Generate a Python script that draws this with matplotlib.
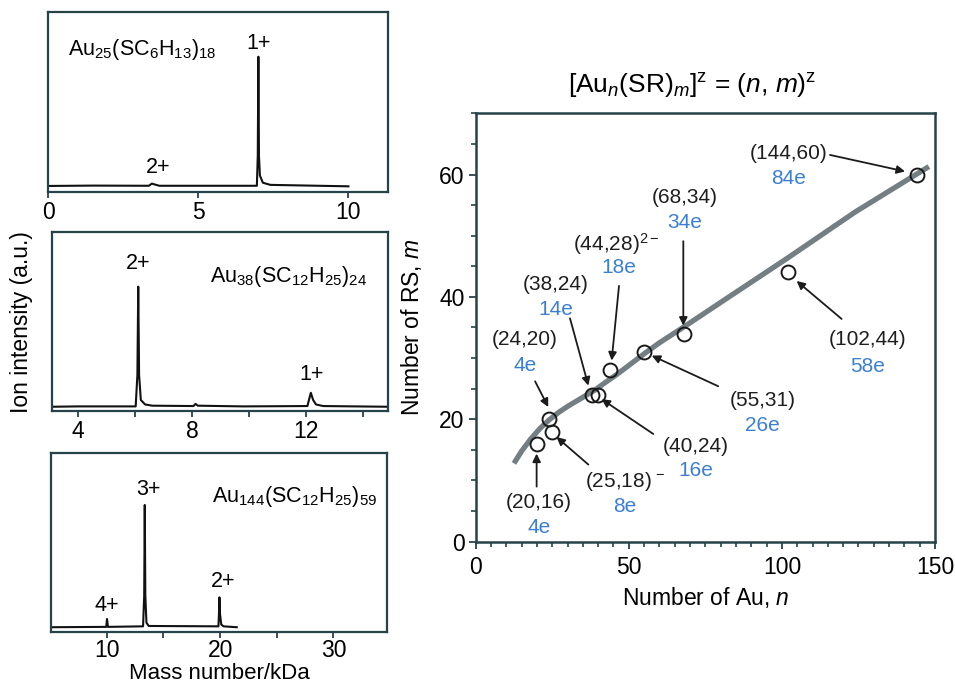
import matplotlib
matplotlib.use("Agg")
import matplotlib.pyplot as plt
from matplotlib.ticker import MultipleLocator

plt.rcParams['font.family'] = ['Liberation Sans', 'DejaVu Sans']
plt.rcParams['mathtext.fontset'] = 'custom'
plt.rcParams['mathtext.rm'] = 'Liberation Sans'
plt.rcParams['mathtext.it'] = 'Liberation Sans:italic'

# --- mass spectra (vertices) ---
ms1_x = [0, 1.5, 3.35, 3.45, 3.55, 3.7, 6.95, 6.98, 7.0, 7.02, 7.05, 7.15, 7.4, 10.0]
ms1_y = [0.032, 0.034, 0.033, 0.045, 0.04, 0.033, 0.033, 0.2, 0.75, 0.2, 0.09, 0.05, 0.038, 0.03]

ms2_x = [3.07, 4.0, 6.02, 6.08, 6.11, 6.14, 6.2, 6.35, 6.6, 8.05, 8.12, 8.2, 9.8,
         12.05, 12.12, 12.17, 12.25, 12.35, 12.6, 14.89]
ms2_y = [0.022, 0.024, 0.024, 0.2, 0.694, 0.2, 0.06, 0.035, 0.028, 0.026, 0.038, 0.028, 0.024,
         0.026, 0.07, 0.10, 0.06, 0.035, 0.026, 0.022]

ms3_x = [5.05, 9.95, 10.02, 10.1, 13.2, 13.3, 13.35, 13.4, 13.5, 13.7,
         19.85, 19.9, 19.94, 19.99, 20.1, 20.3, 21.47]
ms3_y = [0.025, 0.027, 0.071, 0.027, 0.03, 0.2, 0.708, 0.2, 0.05, 0.032,
         0.03, 0.1, 0.192, 0.1, 0.04, 0.03, 0.025]

# --- cluster compositions ---
au_n = [20, 24, 25, 38, 40, 44, 55, 68, 102, 144]
rs_m = [16, 20, 18, 24, 24, 28, 31, 34, 44, 60]
charge = ['', '', r'$^{\,-}$', '', '', r'$^{2-}$', '', '', '', '']
electrons = [4, 4, 8, 14, 16, 18, 26, 34, 58, 84]

# trend curve
curve_n = [12.5, 15, 18, 21, 24, 27, 30, 33, 36, 39, 42, 46, 50, 55, 60, 68, 80, 102, 124, 148]
curve_m = [12.8, 14.8, 16.8, 18.5, 19.9, 21.1, 22.1, 23.0, 23.9, 24.8, 25.9, 27.3, 28.8,
           30.7, 32.5, 35.1, 39.1, 46.4, 53.9, 61.3]

# label layout: (label x, label y, e-label x, e-label y, arrow tail, arrow tip)
layout = [
    (20.7, 6.35, 20.7, 2.3, (19.9, 9.0), (19.9, 14.4)),
    (16.1, 33.0, 16.1, 28.8, (19.4, 26.2), (23.7, 22.0)),
    (49.0, 9.8, 48.8, 5.7, (36.8, 12.6), (26.4, 17.1)),
    (26.1, 42.1, 26.1, 38.0, (30.8, 36.5), (36.8, 25.5)),
    (71.8, 15.5, 71.8, 11.6, (58.0, 17.6), (41.1, 23.3)),
    (46.0, 48.6, 46.6, 44.8, (46.8, 41.8), (44.4, 29.6)),
    (93.6, 23.0, 93.6, 19.0, (79.2, 25.4), (57.5, 30.4)),
    (68.4, 56.2, 68.4, 52.1, (67.8, 49.1), (67.8, 35.3)),
    (128.0, 33.0, 128.0, 28.6, (119.5, 36.4), (104.8, 42.6)),
    (102.1, 63.5, 102.1, 59.3, (115.7, 63.2), (140.2, 60.5)),
]

spine_c = '#27434a'
blue = '#3b7fd4'
fs = 16.5

fig = plt.figure(figsize=(9.55, 6.83), dpi=100)


def style_ms(ax, xlim):
    ax.set_xlim(*xlim)
    ax.set_ylim(0, 1)
    ax.set_yticks([])
    for s in ax.spines.values():
        s.set_color(spine_c)
        s.set_linewidth(1.6)
    ax.tick_params(axis='x', direction='out', length=4, width=1.3, color=spine_c,
                   labelsize=fs, pad=3, which='both')


ax1 = fig.add_axes([0.0506, 0.7193, 0.356, 0.2636])
ax1.plot(ms1_x, ms1_y, color='#111111', lw=1.5)
style_ms(ax1, (0, 11.33))
ax1.set_xticks([0, 5, 10])
ax1.text(0.058, 0.759, r'Au$_{25}$(SC$_6$H$_{13}$)$_{18}$', transform=ax1.transAxes,
         fontsize=15.5, va='baseline', ha='left')
ax1.text(7.0, 0.826, '1+', fontsize=15.5, ha='center', va='center',
         transform=ax1.get_xaxis_transform())
ax1.text(3.66, 0.137, '2+', fontsize=15.5, ha='center', va='center',
         transform=ax1.get_xaxis_transform())

ax2 = fig.add_axes([0.0541, 0.3987, 0.3525, 0.2616])
ax2.plot(ms2_x, ms2_y, color='#111111', lw=1.5)
style_ms(ax2, (3.07, 14.89))
ax2.xaxis.set_major_locator(MultipleLocator(4))
ax2.xaxis.set_minor_locator(MultipleLocator(2))
ax2.text(8.63, 0.722, r'Au$_{38}$(SC$_{12}$H$_{25}$)$_{24}$', fontsize=15.5,
         va='baseline', ha='left', transform=ax2.get_xaxis_transform())
ax2.text(6.11, 0.825, '2+', fontsize=15.5, ha='center', va='center',
         transform=ax2.get_xaxis_transform())
ax2.text(12.2, 0.2, '1+', fontsize=15.5, ha='center', va='center',
         transform=ax2.get_xaxis_transform())

ax3 = fig.add_axes([0.0531, 0.0751, 0.3518, 0.2621])
ax3.plot(ms3_x, ms3_y, color='#111111', lw=1.5)
style_ms(ax3, (5.05, 34.7))
ax3.tick_params(axis='x', pad=1.5)
ax3.xaxis.set_major_locator(MultipleLocator(10))
ax3.xaxis.set_minor_locator(MultipleLocator(5))
ax3.text(19.27, 0.726, r'Au$_{144}$(SC$_{12}$H$_{25}$)$_{59}$', fontsize=15.5,
         va='baseline', ha='left', transform=ax3.get_xaxis_transform())
ax3.text(13.7, 0.792, '3+', fontsize=15.5, ha='center', va='center',
         transform=ax3.get_xaxis_transform())
ax3.text(20.3, 0.279, '2+', fontsize=15.5, ha='center', va='center',
         transform=ax3.get_xaxis_transform())
ax3.text(10.0, 0.149, '4+', fontsize=15.5, ha='center', va='center',
         transform=ax3.get_xaxis_transform())

fig.text(0.023, 0.5286, 'Ion intensity (a.u.)', rotation=90, fontsize=fs,
         ha='center', va='center')
fig.text(0.2293, 0.0065, 'Mass number/kDa', fontsize=16, ha='center', va='baseline')

# --- n vs m plot ---
ax = fig.add_axes([0.4981, 0.2069, 0.4810, 0.6272])
ax.plot(curve_n, curve_m, color='#737f83', lw=3.8, solid_capstyle='butt',
        solid_joinstyle='round', zorder=2)
ax.plot(au_n, rs_m, 'o', ms=10, mfc='none', mec='#1a1a1a', mew=1.4, zorder=3)
ax.set_xlim(0, 150)
ax.set_ylim(0, 70)
ax.xaxis.set_major_locator(MultipleLocator(50))
ax.xaxis.set_minor_locator(MultipleLocator(5))
ax.yaxis.set_major_locator(MultipleLocator(20))
ax.yaxis.set_minor_locator(MultipleLocator(5))
for s in ax.spines.values():
    s.set_color(spine_c)
    s.set_linewidth(1.8)
ax.tick_params(which='major', direction='out', length=5, width=1.3, color=spine_c,
               labelsize=fs)
ax.tick_params(which='minor', direction='out', length=3.5, width=1.2, color=spine_c)
ax.tick_params(axis='x', pad=5)
ax.tick_params(axis='y', pad=3)

for i in range(len(au_n)):
    lx, ly, ex, ey, tail, tip = layout[i]
    ax.text(lx, ly, '(%d,%d)' % (au_n[i], rs_m[i]) + charge[i], fontsize=15,
            ha='center', va='center', color='#1e1e1e')
    ax.text(ex, ey, '%de' % electrons[i], fontsize=15, ha='center', va='center',
            color=blue)
    ax.annotate('', xy=tip, xytext=tail,
                arrowprops=dict(arrowstyle='-|>', lw=1.3, color='#1b1b1b',
                                mutation_scale=12, shrinkA=0, shrinkB=0))

fig.text(0.7246, 0.8755, r'[Au$_{n}$(SR)$_{m}$]$^{\mathrm{z}}$ = ($n$, $m$)$^{\mathrm{z}}$',
         fontsize=19, ha='center', va='center')
fig.text(0.4304, 0.5212, 'Number of RS, $m$', rotation=90, fontsize=fs,
         ha='center', va='center')
fig.text(0.7393, 0.1245, 'Number of Au, $n$', fontsize=fs, ha='center', va='center')

fig.savefig('out.png', dpi=100)
